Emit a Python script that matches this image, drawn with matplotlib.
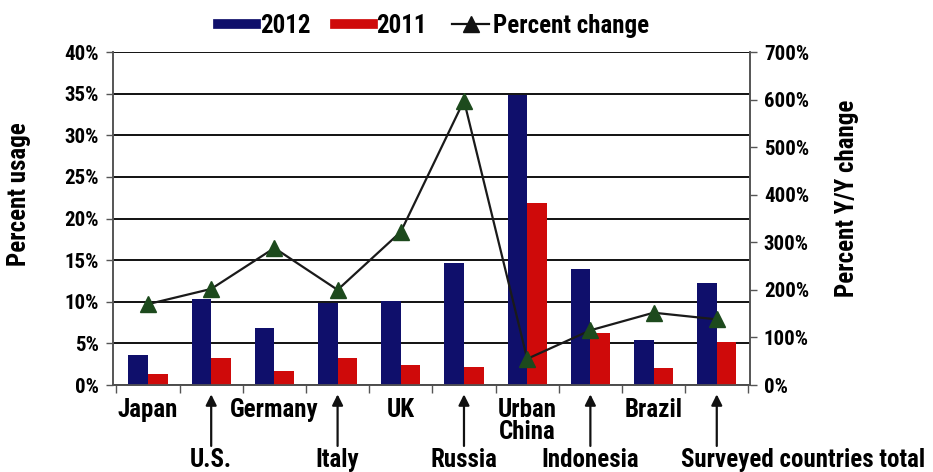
import matplotlib
matplotlib.use("Agg")
import matplotlib.pyplot as plt
from matplotlib.lines import Line2D
from matplotlib.ticker import FuncFormatter
import numpy as np

# Mobile usage by country, 2011 vs 2012, with year-over-year change
countries_top = ["Japan", "", "Germany", "", "UK", "", "Urban\nChina", "", "Brazil", ""]
countries_bottom = ["", "U.S.", "", "Italy", "", "Russia", "", "Indonesia", "", "Surveyed countries total"]
usage_2012 = [3.6, 10.3, 6.8, 9.8, 10.1, 14.6, 34.8, 13.9, 5.4, 12.3]
usage_2011 = [1.3, 3.3, 1.7, 3.3, 2.4, 2.2, 21.9, 6.3, 2.1, 5.2]
pct_change = [170, 202, 288, 200, 322, 598, 55, 115, 152, 138]
left_ticks = [0, 5, 10, 15, 20, 25, 30, 35, 40]
right_ticks = [0, 100, 200, 300, 400, 500, 600, 700]

FONT = ["Roboto Condensed", "DejaVu Sans"]
plt.rcParams["font.family"] = FONT
plt.rcParams["font.weight"] = "bold"
FS_TICK = 15
FS = 18

NAVY = "#0f0f6b"
RED = "#cf0a0a"
GREEN = "#1d4a1d"

fig = plt.figure(figsize=(9.33, 4.72), dpi=100)
ax = fig.add_axes([0.1211, 0.1843, 0.6827, 0.7055])
ax2 = ax.twinx()

x = np.arange(len(usage_2012))
w = 0.31
ax.bar(x - w / 2, usage_2012, width=w, color=NAVY, zorder=3)
ax.bar(x + w / 2, usage_2011, width=w, color=RED, zorder=3)

ax.set_xlim(-0.554, 9.525)
ax.set_ylim(0, 40)
ax.set_yticks(left_ticks)
ax.yaxis.set_major_formatter(FuncFormatter(lambda v, p: f"{v:.0f}%"))
ax.grid(axis="y", color="#111111", linewidth=1.4, zorder=1)
ax.set_axisbelow(True)

ax2.plot(x, pct_change, color="#1a1a1a", linewidth=1.6, marker="^",
         markersize=11, markerfacecolor=GREEN, markeredgecolor=GREEN, zorder=5)
ax2.set_ylim(0, 700)
ax2.set_yticks(right_ticks)
ax2.yaxis.set_major_formatter(FuncFormatter(lambda v, p: f"{v:.0f}%"))

for a in (ax, ax2):
    for s in a.spines.values():
        s.set_color("#555555")
        s.set_linewidth(1.2)
    a.spines["top"].set_visible(False)
    a.tick_params(axis="y", labelsize=FS_TICK, length=5, width=1, color="#555555", pad=5)
ax.spines["bottom"].set_color("#222222")

# category boundary ticks along the bottom
ax.set_xticks(np.arange(-0.5, 10, 1.0))
ax.set_xticklabels([])
ax.tick_params(axis="x", length=6, width=1, color="#555555")

ax.set_ylabel("Percent usage", fontsize=FS, fontweight="bold")
ax.yaxis.set_label_coords(-0.128, 0.574)
ax2.set_ylabel("Percent Y/Y change", fontsize=FS, fontweight="bold")
ax2.yaxis.set_label_coords(1.133, 0.562)

# category labels: alternating rows, lower row pointed up with arrows
tr = ax.get_xaxis_transform()
for i, name in enumerate(countries_top):
    if name:
        ax.text(i, -0.04, name, transform=tr, ha="center", va="top",
                fontsize=FS, fontweight="bold", linespacing=0.9)
for i, name in enumerate(countries_bottom):
    if name:
        ax.annotate("", xy=(i, -0.028), xytext=(i, -0.183), xycoords=tr,
                    textcoords=tr, annotation_clip=False,
                    arrowprops=dict(arrowstyle="-|>", color="#111111", lw=1.6,
                                    mutation_scale=16, shrinkA=0, shrinkB=0))
        offset = 1.37 if i == len(countries_bottom) - 1 else 0
        ax.text(i + offset, -0.188, name, transform=tr, ha="center", va="top",
                fontsize=FS, fontweight="bold")

handles = [
    Line2D([], [], color=NAVY, linewidth=7),
    Line2D([], [], color=RED, linewidth=7),
    Line2D([], [], color="#111111", linewidth=1.6, marker="^", markersize=11,
           markerfacecolor="#111111", markeredgecolor="#111111"),
]
fig.legend(handles, ["2012", "2011", "Percent change"], loc="center",
           bbox_to_anchor=(0.465, 0.945), ncol=3, frameon=False, fontsize=FS,
           handlelength=1.5, handletextpad=0.15, columnspacing=1.0)

fig.savefig("out.png", dpi=100)
